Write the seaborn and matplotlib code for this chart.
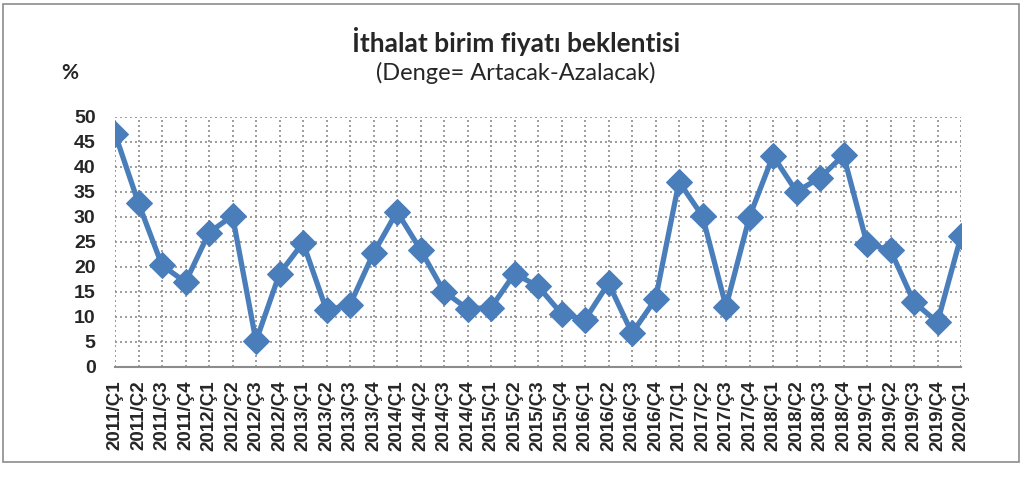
import matplotlib
matplotlib.use("Agg")
import matplotlib.pyplot as plt
import seaborn as sns
import pandas as pd
from matplotlib.patches import Rectangle

# quarters 2011/Ç1 .. 2020/Ç1
periods = [f"{y}/Ç{q}" for y in range(2011, 2020) for q in range(1, 5)] + ["2020/Ç1"]
values = [46.6, 32.7, 20.3, 16.9, 26.8, 30.2, 5.1, 18.6,
          24.8, 11.3, 12.4, 22.7, 31.0, 23.4, 15.0, 11.6,
          11.8, 18.6, 16.1, 10.6, 9.4, 16.7, 6.7, 13.5,
          37.0, 30.1, 12.0, 30.0, 42.2, 35.0, 37.8, 42.3,
          24.6, 23.3, 12.9, 8.9, 26.1]
yticks = list(range(0, 55, 5))

df = pd.DataFrame({"donem": periods, "deger": values})

sns.set_style("white")
plt.rcParams['font.family'] = ['Liberation Sans', 'DejaVu Sans']

fig = plt.figure(figsize=(10.32, 4.86), dpi=100)
ax = fig.add_axes([115/1032, 1 - 366.7/486, (961 - 115)/1032, (366.7 - 116.7)/486])

sns.lineplot(data=df, x="donem", y="deger", ax=ax, color="#4a7ebb",
             linewidth=3.8, marker="D", markersize=13, markeredgecolor="#4a7ebb",
             sort=False)

ax.set_xlim(0, len(periods) - 1)
ax.set_ylim(0, 50)
ax.set_yticks(yticks)
ax.set_yticklabels([str(v) for v in yticks], fontsize=14, fontweight="bold")
ax.set_xticks(range(len(periods)))
ax.set_xticklabels(periods, rotation=90, fontsize=13.5, fontweight="bold")
ax.set_xlabel("")
ax.set_ylabel("")

ax.grid(True, which="major", axis="both", linestyle=(0, (1.2, 1.8)), color="#8c8c8c", linewidth=1.2)
ax.set_axisbelow(True)
for s in ["left", "right", "top"]:
    ax.spines[s].set_visible(False)
ax.spines["bottom"].set_color("#8c8c8c")
ax.spines["bottom"].set_linewidth(1.5)
ax.tick_params(axis="x", direction="out", length=5, width=1.5, color="#8c8c8c", pad=5)
ax.tick_params(axis="y", length=0, pad=14)

fig.text(0.5, 1 - 42/486, "İthalat birim fiyatı beklentisi", ha="center", va="center",
         fontsize=19, fontweight="bold", family=["Lato", "DejaVu Sans"])
fig.text(0.5, 1 - 73/486, "(Denge= Artacak-Azalacak)", ha="center", va="center",
         fontsize=17, family=["Lato", "DejaVu Sans"])
fig.text(70/1032, 1 - 73/486, "%", ha="center", va="center",
         fontsize=15, fontweight="bold", family=["Lato", "DejaVu Sans"])

fig.patches.append(Rectangle((3/1032, 1 - 462/486), 1016/1032, 458/486, transform=fig.transFigure,
                             fill=False, edgecolor="#8c8c8c", linewidth=1.2))

fig.savefig("out.png", dpi=100)
